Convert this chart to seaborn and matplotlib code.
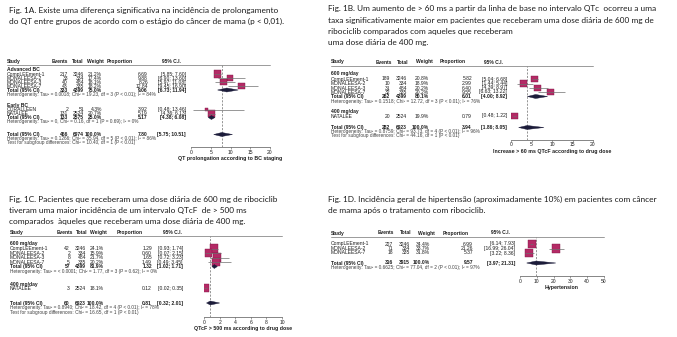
import matplotlib
matplotlib.use("Agg")
import matplotlib.pyplot as plt
import seaborn as sns
from matplotlib import transforms
from matplotlib.patches import Polygon
from matplotlib.lines import Line2D

sns.set_theme(style="white")
plt.rcParams['font.family'] = ['Liberation Sans', 'DejaVu Sans']

# ---------------------------------------------------------------- data
cap_a = ["Fig. 1A. Existe uma diferença significativa na incidência de prolongamento",
         "do QT entre grupos de acordo com o estágio do câncer de mama (p < 0,01)."]
cap_b = ["Fig. 1B. Um aumento de > 60 ms a partir da linha de base no intervalo QTc  ocorreu a uma",
         "taxa significativamente maior em pacientes que receberam uma dose diária de 600 mg de",
         "ribociclib comparados com aqueles que receberam",
         "uma dose diária de 400 mg."]
cap_c = ["Fig. 1C. Pacientes que receberam uma dose diária de 600 mg de ribociclib",
         "tiveram uma maior incidência de um intervalo QTcF  de > 500 ms",
         "comparados  àqueles que receberam uma dose diária de 400 mg."]
cap_d = ["Fig. 1D. Incidência geral de hipertensão (aproximadamente 10%) em pacientes com câncer",
         "de mama após o tratamento com ribociclib."]

header_labels = ["Study", "Events", "Total", "Weight", "Proportion", "95% C.I."]

# Panel A
a_groups = ["Advanced BC", "Early BC"]
a_studies = ["CompLEEment-1", "MONALEESA-2", "MONALEESA-3", "MONALEESA-7", "CORALLEEN", "NATALEE"]
a_events = [217, 33, 40, 43, 2, 131]
a_total = [3246, 334, 484, 335, 51, 2524]
a_weight = [21.2, 17.4, 18.1, 18.2, 4.3, 20.7]
a_prop = [6.69, 9.88, 8.26, 12.84, 3.92, 5.19]
a_lo = [5.85, 6.90, 5.97, 9.45, 0.48, 4.36]
a_hi = [7.60, 13.60, 11.08, 16.90, 13.46, 6.13]
a_sub_events = [333, 133]
a_sub_total = [4399, 2575]
a_sub_weight = [75.0, 25.0]
a_sub_est = [9.06, 5.17]
a_sub_lo = [6.73, 4.38]
a_sub_hi = [11.94, 6.08]
a_sub_het = ["Heterogeneity: Tau² = 0.0018; Chi² = 19.23, df = 3 (P < 0.01); I² = 84%",
             "Heterogeneity: Tau² = 0, Chi² = 0.16, df = 1 (P = 0.69); I² = 0%"]
a_all = [466, 6974, 100.0, 7.80, 5.75, 10.51]
a_all_het = "Heterogeneity: Tau² = 0.1266; Chi² = 35.94, df = 5 (P < 0.01); I² = 86%"
a_test = "Test for subgroup differences: Chi² = 10.40, df = 1 (P < 0.01)"
a_ticks = [0, 5, 10, 15, 20]
a_xlabel = "QT prolongation according to BC staging"

# Panel B
b_groups = ["600 mg/day", "400 mg/day"]
b_studies = ["CompLEEment-1", "MONALEESA-2", "MONALEESA-3", "MONALEESA-7", "NATALEE"]
b_events = [189, 10, 31, 32, 20]
b_total = [3246, 334, 484, 335, 2524]
b_weight = [20.8, 18.9, 20.2, 20.2, 19.9]
b_prop = [5.82, 2.99, 6.40, 9.55, 0.79]
b_lo = [5.04, 1.44, 4.39, 6.63, 0.48]
b_hi = [6.68, 5.44, 8.97, 13.22, 1.22]
b_sub_events = [262]
b_sub_total = [4399]
b_sub_weight = [80.1]
b_sub_est = [6.01]
b_sub_lo = [4.00]
b_sub_hi = [8.92]
b_sub_het = ["Heterogeneity: Tau² = 0.1518; Chi² = 12.72, df = 3 (P < 0.01); I² = 76%"]
b_all = [282, 6923, 100.0, 3.94, 1.86, 8.05]
b_all_het = "Heterogeneity: Tau² = 0.8759; Chi² = 93.73, df = 4 (P < 0.01); I² = 96%"
b_test = "Test for subgroup differences: Chi² = 44.16, df = 1 (P < 0.01)"
b_ticks = [0, 5, 10, 15, 20]
b_xlabel = "Increase > 60 ms QTcF according to drug dose"

# Panel C
c_groups = ["600 mg/day", "400 mg/day"]
c_studies = ["CompLEEment-1", "MONALEESA-2", "MONALEESA-3", "MONALEESA-7", "NATALEE"]
c_events = [42, 2, 8, 5, 3]
c_total = [3246, 334, 484, 335, 2524]
c_weight = [24.1, 15.9, 21.7, 20.2, 18.1]
c_prop = [1.29, 0.60, 1.65, 1.49, 0.12]
c_lo = [0.93, 0.07, 0.72, 0.49, 0.02]
c_hi = [1.74, 2.15, 3.23, 3.45, 0.35]
c_sub_events = [57]
c_sub_total = [4399]
c_sub_weight = [81.9]
c_sub_est = [1.32]
c_sub_lo = [1.02]
c_sub_hi = [1.71]
c_sub_het = ["Heterogeneity: Tau² = < 0.0001; Chi² = 1.77, df = 3 (P = 0.62); I² = 0%"]
c_all = [60, 6923, 100.0, 0.81, 0.32, 2.01]
c_all_het = "Heterogeneity: Tau² = 0.8940; Chi² = 18.42, df = 4 (P < 0.01); I² = 78%"
c_test = "Test for subgroup differences: Chi² = 16.65, df = 1 (P < 0.01)"
c_ticks = [0, 2, 4, 6, 8, 10]
c_xlabel = "QTcF > 500 ms according to drug dose"

# Panel D
d_studies = ["CompLEEment-1", "MONALEESA-2", "MONALEESA-7"]
d_events = [227, 71, 18]
d_total = [3246, 334, 335]
d_weight = [34.4, 33.7, 31.8]
d_prop = [6.99, 21.26, 5.37]
d_lo = [6.14, 16.99, 3.22]
d_hi = [7.93, 26.04, 8.36]
d_all = [316, 3915, 100.0, 9.57, 3.97, 21.31]
d_all_het = "Heterogeneity: Tau² = 0.6625; Chi² = 77.04, df = 2 (P < 0.01); I² = 97%"
d_ticks = [0, 10, 20, 30, 40, 50]
d_xlabel = "Hypertension"

# ---------------------------------------------------------------- layout (pixels)
W, H = 677, 337
fig = plt.figure(figsize=(W / 100, H / 100), dpi=100)
fig.patch.set_facecolor("white")

TXT = "#1e1e1e"
HET = "#404040"
SQ = "#B42A66"
SQE = "#7d1744"
DIA = "#1c1c3a"
CAPFONT = ["Lato", "DejaVu Sans"]
FS, FH = 3.6, 3.4

panels = [
    dict(groups=a_groups, studies=a_studies, events=a_events, total=a_total, weight=a_weight,
         prop=a_prop, lo=a_lo, hi=a_hi, sub_events=a_sub_events, sub_total=a_sub_total,
         sub_weight=a_sub_weight, sub_est=a_sub_est, sub_lo=a_sub_lo, sub_hi=a_sub_hi,
         sub_het=a_sub_het, all=a_all, all_het=a_all_het, test=a_test, ticks=a_ticks,
         xlabel=a_xlabel,
         L=dict(study_x=7, cols=[68, 84, 102, 148, 186], hdr=[52, 72, 87, 107, 162],
                ax_x0=191, ax_x1=270, header_y=61, line_y=64.5, ax_bot=147,
                group_y=[69.5, 105], study_y=[74, 78, 82, 86, 109.5, 113.5],
                sub_y=[90, 117.5], subhet_y=[94, 121.5], all_y=134.5, allhet_y=138.5,
                test_y=142.5, k=1.3)),
    dict(groups=b_groups, studies=b_studies, events=b_events, total=b_total, weight=b_weight,
         prop=b_prop, lo=b_lo, hi=b_hi, sub_events=b_sub_events, sub_total=b_sub_total,
         sub_weight=b_sub_weight, sub_est=b_sub_est, sub_lo=b_sub_lo, sub_hi=b_sub_hi,
         sub_het=b_sub_het, all=b_all, all_het=b_all_het, test=b_test, ticks=b_ticks,
         xlabel=b_xlabel,
         L=dict(study_x=331, cols=[390, 407, 429, 472, 507], hdr=[376, 397, 416, 440, 484],
                ax_x0=511, ax_x1=593, header_y=62, line_y=66, ax_bot=139.5,
                group_y=[74, 111.5], study_y=[79, 83.5, 88, 92, 116],
                sub_y=[96.5], subhet_y=[101], all_y=127.5, allhet_y=131.5,
                test_y=135.5, k=1.2)),
    dict(groups=c_groups, studies=c_studies, events=c_events, total=c_total, weight=c_weight,
         prop=c_prop, lo=c_lo, hi=c_hi, sub_events=c_sub_events, sub_total=c_sub_total,
         sub_weight=c_sub_weight, sub_est=c_sub_est, sub_lo=c_sub_lo, sub_hi=c_sub_hi,
         sub_het=c_sub_het, all=c_all, all_het=c_all_het, test=c_test, ticks=c_ticks,
         xlabel=c_xlabel,
         L=dict(study_x=10, cols=[70, 86, 104, 152, 183], hdr=[57, 76, 90, 117, 163],
                ax_x0=204, ax_x1=282, header_y=232, line_y=236, ax_bot=317,
                group_y=[243, 284], study_y=[248.5, 253, 257.5, 262, 288],
                sub_y=[266.5], subhet_y=[271], all_y=303, allhet_y=307.5,
                test_y=312, k=1.6)),
    dict(groups=[], studies=d_studies, events=d_events, total=d_total, weight=d_weight,
         prop=d_prop, lo=d_lo, hi=d_hi, sub_events=[], sub_total=[], sub_weight=[],
         sub_est=[], sub_lo=[], sub_hi=[], sub_het=[], all=d_all, all_het=d_all_het,
         test=None, ticks=d_ticks, xlabel=d_xlabel,
         L=dict(study_x=331, cols=[393, 410, 430, 473, 515], hdr=[378, 400, 418, 443, 491],
                ax_x0=520, ax_x1=604, header_y=233, line_y=237, ax_bot=276,
                group_y=[], study_y=[244, 248.5, 253],
                sub_y=[], subhet_y=[], all_y=263, allhet_y=267.5,
                test_y=None, k=1.0)),
]


def diamond(ax, est, lo, hi, y, h=2.0):
    ax.add_patch(Polygon([[lo, y], [est, y - h], [hi, y], [est, y + h]], closed=True,
                         facecolor=DIA, edgecolor=DIA, lw=0.3, zorder=5))


def draw_panel(p):
    L = p["L"]
    ax = fig.add_axes([L["ax_x0"] / W, 1 - L["ax_bot"] / H,
                       (L["ax_x1"] - L["ax_x0"]) / W, (L["ax_bot"] - L["line_y"]) / H])
    tr = transforms.blended_transform_factory(fig.transFigure, ax.transData)

    def T(x, y, s, ha="left", bold=False, size=FS, color=TXT):
        ax.text(x / W, y, s, transform=tr, ha=ha, va="center", fontsize=size,
                fontweight="bold" if bold else "normal", color=color, clip_on=False)

    # header
    T(L["study_x"], L["header_y"], header_labels[0], bold=True)
    for xh, lab in zip(L["hdr"], header_labels[1:]):
        T(xh, L["header_y"], lab, bold=True)
    fig.add_artist(Line2D([L["study_x"] / W, L["ax_x1"] / W], [1 - L["line_y"] / H] * 2,
                          transform=fig.transFigure, color="#8a8a8a", lw=0.6))

    c = L["cols"]

    def row(y, name, ev, tot, w, est, lo, hi, bold=False):
        T(L["study_x"], y, name, bold=bold)
        T(c[0], y, f"{ev}", ha="right", bold=bold)
        T(c[1], y, f"{tot}", ha="right", bold=bold)
        T(c[2], y, f"{w:.1f}%", ha="right", bold=bold)
        T(c[3], y, f"{est:.2f}", ha="right", bold=bold)
        T(c[4], y, f"[{lo:.2f}; {hi:.2f}]", ha="right", bold=bold)

    for g, gy in zip(p["groups"], L["group_y"]):
        T(L["study_x"], gy, g, bold=True)
    for i, s in enumerate(p["studies"]):
        row(L["study_y"][i], s, p["events"][i], p["total"][i], p["weight"][i],
            p["prop"][i], p["lo"][i], p["hi"][i])
    for i in range(len(p["sub_events"])):
        row(L["sub_y"][i], "Total (95% CI)", p["sub_events"][i], p["sub_total"][i],
            p["sub_weight"][i], p["sub_est"][i], p["sub_lo"][i], p["sub_hi"][i], bold=True)
        T(L["study_x"], L["subhet_y"][i], p["sub_het"][i], size=FH, color=HET)
        diamond(ax, p["sub_est"][i], p["sub_lo"][i], p["sub_hi"][i], L["sub_y"][i])
    ev, tot, w, est, lo, hi = p["all"]
    row(L["all_y"], "Total (95% CI)", ev, tot, w, est, lo, hi, bold=True)
    T(L["study_x"], L["allhet_y"], p["all_het"], size=FH, color=HET)
    if p["test"]:
        T(L["study_x"], L["test_y"], p["test"], size=FH, color=HET)
    diamond(ax, est, lo, hi, L["all_y"])

    # study squares and CIs
    sns.scatterplot(x=p["prop"], y=L["study_y"], size=p["weight"], size_norm=(0, 100),
                    sizes=(0, L["k"] * 100), marker="s", color=SQ, edgecolor=SQE,
                    linewidth=0.3, legend=False, ax=ax, zorder=3)
    ax.hlines(L["study_y"], p["lo"], p["hi"], color="#6e6e6e", lw=0.5, zorder=4)
    ax.axvline(est, color="#6a6a6a", lw=0.5, ls=(0, (3, 2)), zorder=1)

    ax.set_xlim(p["ticks"][0], p["ticks"][-1])
    ax.set_ylim(L["ax_bot"], L["line_y"])
    ax.set_xticks(p["ticks"])
    ax.set_xticklabels([str(t) for t in p["ticks"]])
    ax.set_yticks([])
    ax.set_xlabel(p["xlabel"], fontsize=3.8, fontweight="bold", color=TXT, labelpad=0.8)
    ax.set_ylabel("")
    sns.despine(ax=ax, left=True)
    ax.spines["bottom"].set_color("#555555")
    ax.spines["bottom"].set_linewidth(0.5)
    ax.tick_params(axis="x", bottom=True, length=1.5, width=0.4, color="#555555",
                   labelsize=3.6, labelcolor=TXT, pad=0.6)
    ax.patch.set_alpha(0)


for p in panels:
    draw_panel(p)

# captions (size fitted to the first caption line's width)
renderer = fig.canvas.get_renderer()
_t = fig.text(0, 0, cap_a[0], fontsize=10, family=CAPFONT)
cap_size = 10 * (277 - 9) / _t.get_window_extent(renderer=renderer).width
_t.remove()

captions = [(cap_a, 9, 10), (cap_b, 328, 9), (cap_c, 9, 199.5), (cap_d, 328, 199.5)]
for lines, x0, y0 in captions:
    for i, s in enumerate(lines):
        fig.text(x0 / W, 1 - (y0 + i * 11.2) / H, s, fontsize=cap_size, family=CAPFONT,
                 color="#1a1a1a", ha="left", va="center")

fig.savefig("out.png", dpi=100, facecolor="white")
